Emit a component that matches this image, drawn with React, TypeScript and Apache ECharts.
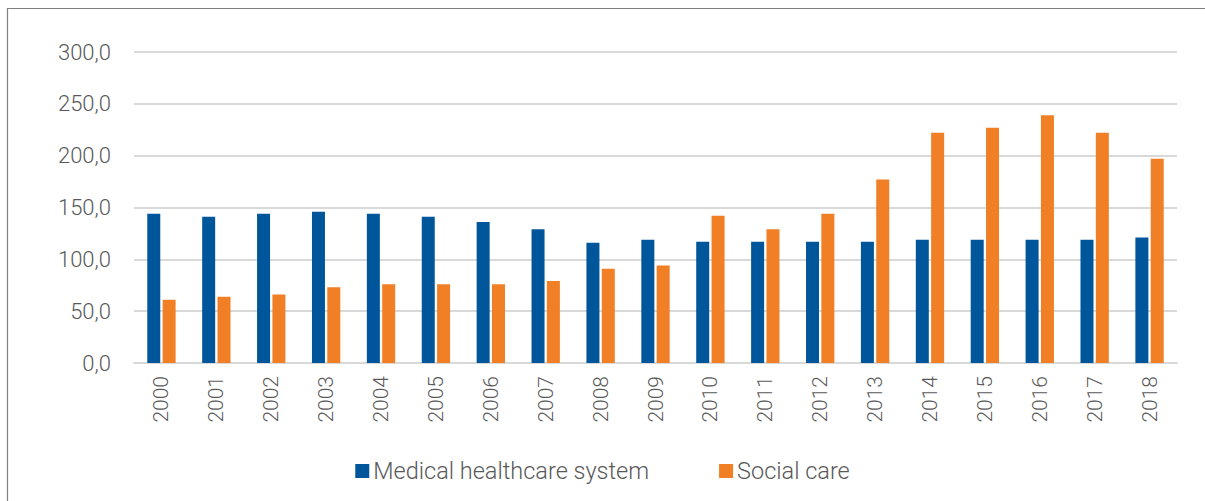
import React, { useEffect, useRef } from "react";
import * as echarts from "echarts";

const years = ["2000","2001","2002","2003","2004","2005","2006","2007","2008","2009","2010","2011","2012","2013","2014","2015","2016","2017","2018"];
const medical = [144, 141, 144, 146, 144, 141, 136, 129, 116, 119, 117, 117, 117, 117, 119, 119, 119, 119, 121];
const social = [61, 64, 66, 73, 76, 76, 76, 79, 91, 94, 142, 129, 144, 177, 222, 227, 239, 222, 197];
const seriesNames = ["Medical healthcare system", "Social care"];
const colors = ["#00569A", "#F07F26"];

export default function App() {
  const ref = useRef<HTMLDivElement>(null);
  useEffect(() => {
    document.body.style.margin = "0";
    const chart = echarts.init(ref.current!, null, { renderer: "svg" });
    const font = "Roboto";
    chart.setOption({
      animation: false,
      backgroundColor: "#ffffff",
      textStyle: { fontFamily: font },
      graphic: [
        {
          type: "rect",
          shape: { x: 7.5, y: 8.5, width: 1300, height: 600 },
          style: { fill: "none", stroke: "#7f7f7f", lineWidth: 1.2 },
          silent: true,
        },
      ],
      grid: { left: 134, right: 28, top: 52, bottom: 138, containLabel: false },
      legend: {
        bottom: 13,
        left: "center",
        itemWidth: 14,
        itemHeight: 14,
        itemGap: 70,
        icon: "rect",
        data: seriesNames,
        textStyle: { fontSize: 23.5, fontWeight: 300, color: "#595959", fontFamily: font, padding: [0, 0, 0, -1] },
      },
      xAxis: {
        type: "category",
        data: years,
        axisLine: { show: true, lineStyle: { color: "#d9d9d9", width: 2 } },
        axisTick: { show: false },
        axisLabel: { rotate: 90, margin: 13, fontSize: 21, fontWeight: 300, color: "#595959", fontFamily: font },
      },
      yAxis: {
        type: "value",
        min: 0,
        max: 300,
        interval: 50,
        axisLine: { show: false },
        axisTick: { show: false },
        splitLine: { lineStyle: { color: "#d9d9d9", width: 2 } },
        axisLabel: {
          margin: 23,
          fontSize: 22,
          fontWeight: 300,
          color: "#595959",
          fontFamily: font,
          formatter: (v: number) => v.toFixed(1).replace(".", ","),
        },
      },
      series: [
        {
          name: seriesNames[0],
          type: "bar",
          data: medical,
          barWidth: 13,
          barGap: "18%",
          itemStyle: { color: colors[0] },
        },
        {
          name: seriesNames[1],
          type: "bar",
          data: social,
          barWidth: 13,
          barGap: "18%",
          itemStyle: { color: colors[1] },
        },
      ],
    });
    return () => chart.dispose();
  }, []);
  return <div ref={ref} style={{ position: "absolute", left: 0, top: 0, width: 1205, height: 501 }} />;
}
